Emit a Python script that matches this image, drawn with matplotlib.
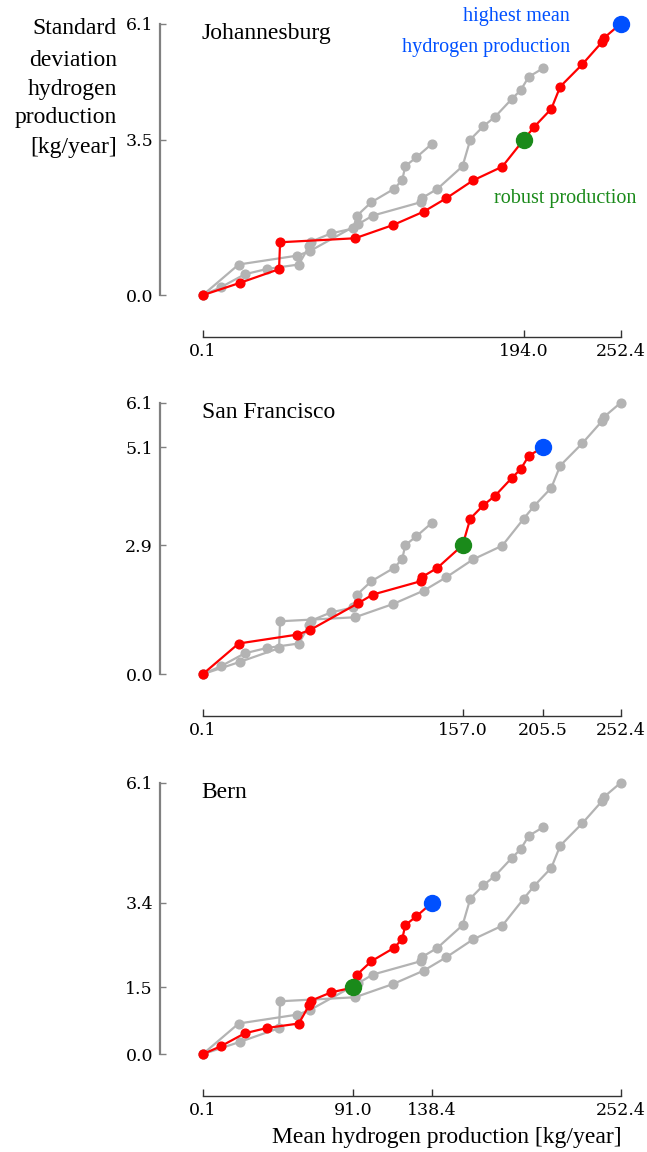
import matplotlib
matplotlib.use("Agg")
import matplotlib.pyplot as plt

plt.rcParams["font.family"] = ["DejaVu Serif"]

# ---------------- data ----------------
cities = ["Johannesburg", "San Francisco", "Bern"]

jhb_mean = [0.1, 22.8, 46.2, 46.8, 92.1, 115.2, 133.6, 147.2, 163.3, 181.0,
            194.0, 200.4, 210.6, 216.0, 229.3, 241.2, 242.6, 252.4]
jhb_std = [0.0, 0.28, 0.585, 1.19, 1.28, 1.58, 1.88, 2.18, 2.58, 2.89,
           3.5, 3.79, 4.19, 4.69, 5.19, 5.69, 5.79, 6.1]

sf_mean = [0.1, 21.8, 57.2, 64.7, 93.7, 102.8, 131.7, 132.3, 141.8, 157.0,
           161.7, 169.6, 176.6, 186.7, 192.1, 197.0, 205.5]
sf_std = [0.0, 0.69, 0.89, 0.99, 1.59, 1.79, 2.09, 2.18, 2.39, 2.9,
          3.50, 3.80, 4.01, 4.41, 4.61, 4.91, 5.1]

bern_mean = [0.1, 11.1, 25.5, 38.9, 58.1, 64.5, 65.3, 77.6, 91.0, 93.3,
             101.9, 115.6, 120.6, 122.4, 129.1, 138.4]
bern_std = [0.0, 0.18, 0.47, 0.59, 0.69, 1.11, 1.20, 1.39, 1.5, 1.79,
            2.09, 2.39, 2.59, 2.90, 3.10, 3.4]

# robust (green) and highest-mean (blue) solutions per city
robust_mean = [194.0, 157.0, 91.0]
robust_std = [3.5, 2.9, 1.5]
best_mean = [252.4, 205.5, 138.4]
best_std = [6.1, 5.1, 3.4]

x_min_tick = 0.1
x_max_tick = 252.4
y_min_tick = 0.0
y_max_tick = 6.1

# ---------------- style ----------------
SERIF = ["Liberation Serif", "DejaVu Serif"]
RED = "#ff0000"
GRAY = "#b3b3b3"
GREEN = "#1a8a1a"
BLUE = "#0050ff"

fronts = [(jhb_mean, jhb_std), (sf_mean, sf_std), (bern_mean, bern_std)]

W, H = 647, 1152
fig = plt.figure(figsize=(W / 100, H / 100), dpi=100)

left_px, right_px = 160, 625
bottoms_px = [337, 716, 1096]
tops_px = [19, 398, 778]
xlim = (-25.7, 255.1)
ylim = (-0.94, 6.21)

for i, city in enumerate(cities):
    b = bottoms_px[i]
    t = tops_px[i]
    ax = fig.add_axes([left_px / W, 1 - b / H, (right_px - left_px) / W, (b - t) / H])
    ax.set_xlim(*xlim)
    ax.set_ylim(*ylim)

    # other cities in gray
    for j, (mx, sy) in enumerate(fronts):
        if j == i:
            continue
        ax.plot(mx, sy, color=GRAY, lw=1.6, marker="o", ms=6.3, mec=GRAY, mfc=GRAY,
                zorder=2, clip_on=False)
    mx, sy = fronts[i]
    ax.plot(mx, sy, color=RED, lw=1.6, marker="o", ms=6.3, mec=RED, mfc=RED,
            zorder=3, clip_on=False)
    ax.plot([robust_mean[i]], [robust_std[i]], "o", color=GREEN, ms=11.5, zorder=4, clip_on=False)
    ax.plot([best_mean[i]], [best_std[i]], "o", color=BLUE, ms=11.5, zorder=4, clip_on=False)

    ax.text(0.09, 0.955, city, transform=ax.transAxes, ha="left", va="center",
            fontsize=17, family=SERIF)

    # spines
    for s in ["top", "right"]:
        ax.spines[s].set_visible(False)
    ax.spines["left"].set_color("#808080")
    ax.spines["left"].set_linewidth(1.6)
    ax.spines["left"].set_bounds(y_min_tick, y_max_tick)
    ax.spines["bottom"].set_color("#333333")
    ax.spines["bottom"].set_linewidth(1.0)
    ax.spines["bottom"].set_bounds(x_min_tick, x_max_tick)

    xt = sorted(set([x_min_tick, robust_mean[i], best_mean[i], x_max_tick]))
    yt = sorted(set([y_min_tick, robust_std[i], best_std[i], y_max_tick]))
    ax.set_xticks(xt)
    ax.set_xticklabels([f"{v:.1f}" for v in xt])
    ax.set_yticks(yt)
    ax.set_yticklabels([f"{v:.1f}" for v in yt])
    ax.tick_params(axis="x", direction="in", length=5, width=1.0, color="#333333",
                   pad=4, labelsize=12.5)
    ax.tick_params(axis="y", direction="in", length=4, width=1.0, color="#808080",
                   pad=5, labelsize=12.5)

    if i == 0:
        ax.text(221.9, 6.26, "highest mean", ha="right", va="center",
                color=BLUE, fontsize=14.5, family=SERIF)
        ax.text(221.9, 5.58, "hydrogen production", ha="right", va="center",
                color=BLUE, fontsize=14.5, family=SERIF)
        ax.text(261.8, 2.17, "robust production", ha="right", va="center",
                color=GREEN, fontsize=14.5, family=SERIF)

ylabel_lines = ["Standard", "deviation", "hydrogen", "production", "[kg/year]"]
ylabel_centers_px = [28, 60, 90, 118, 148]
for line, yc in zip(ylabel_lines, ylabel_centers_px):
    fig.text(117 / W, 1 - yc / H, line, ha="right", va="center", fontsize=17, family=SERIF)

fig.text(622 / W, 1 - 1137 / H, "Mean hydrogen production [kg/year]",
         ha="right", va="center", fontsize=17, family=SERIF)

fig.savefig("out.png", dpi=100)
